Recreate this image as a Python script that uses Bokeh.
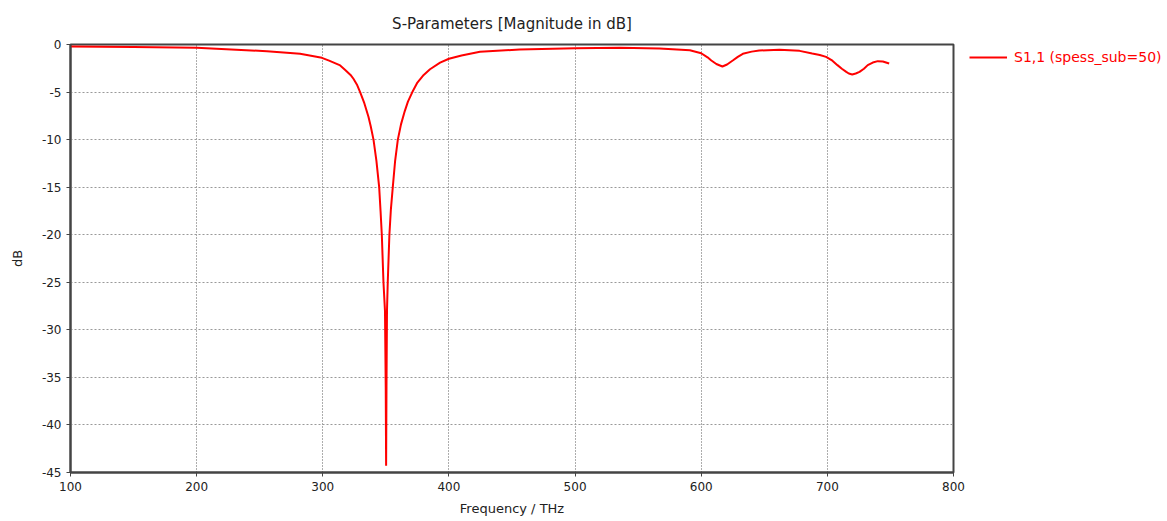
from bokeh.plotting import figure
from bokeh.models import Range1d, Legend, LegendItem, SingleIntervalTicker, CustomJSTickFormatter
from bokeh.embed import file_html
from bokeh.resources import INLINE

freq_thz = [100, 150, 200, 255.7, 282, 299.3, 305, 313.8, 318, 322, 324.3, 327, 329.6, 333,
            336.2, 338, 340.2, 342.5, 344.7, 345.8, 346.8, 348.1, 349.3, 349.9, 350.2,
            350.5, 350.9, 351.5, 352.8, 354, 355.5, 357.3, 359.5, 362, 365, 367.5, 371,
            375, 380, 385, 393, 400, 410, 424.6, 456, 500, 535.5, 567, 591, 600, 605, 608,
            612, 616.8, 620.5, 625, 629, 633, 640, 646, 662, 678, 688, 694, 699, 704, 708,
            711.5, 715, 717, 719.7, 722.5, 725.5, 729, 732, 736, 740, 744, 749]
s11_db = [-0.21, -0.25, -0.35, -0.7, -0.98, -1.4, -1.7, -2.2, -2.7, -3.2, -3.6, -4.2, -5.0,
          -6.2, -7.6, -8.6, -10.0, -12.2, -15.0, -17.5, -20.0, -25.0, -28.0, -36.0, -44.3,
          -36.0, -28.0, -25.0, -20.0, -17.3, -15.0, -12.3, -10.0, -8.4, -7.0, -6.0, -5.0,
          -4.0, -3.2, -2.6, -1.9, -1.5, -1.15, -0.77, -0.53, -0.39, -0.35, -0.42, -0.6,
          -0.92, -1.35, -1.68, -2.05, -2.31, -2.1, -1.68, -1.3, -0.98, -0.75, -0.63, -0.56,
          -0.67, -0.95, -1.1, -1.3, -1.7, -2.17, -2.55, -2.88, -3.05, -3.15, -3.05, -2.88,
          -2.55, -2.17, -1.9, -1.75, -1.78, -2.0]

series_label = "S1,1 (spess_sub=50)"
title_text = "S-Parameters [Magnitude in dB]"
x_label = "Frequency / THz"
y_label = "dB"

FONT = "DejaVu Sans"

p = figure(frame_width=883, frame_height=428, output_backend="svg", toolbar_location=None,
           x_range=Range1d(100, 800), y_range=Range1d(-45, 0),
           min_border_left=70, min_border_right=205, min_border_top=44, min_border_bottom=40)

p.title.text = title_text
p.title.align = "center"
p.title.text_font = FONT
p.title.text_font_size = "15px"
p.title.text_font_style = "normal"
p.title.text_color = "#222222"
p.title.standoff = 24

r = p.line(freq_thz, s11_db, line_color="#ff0000", line_width=2)

p.xaxis.ticker = SingleIntervalTicker(interval=100, num_minor_ticks=0)
p.yaxis.ticker = SingleIntervalTicker(interval=5, num_minor_ticks=0)
p.yaxis.formatter = CustomJSTickFormatter(code="return tick.toFixed(0);")

for ax in (p.xaxis, p.yaxis):
    ax.axis_line_color = "#444444"
    ax.axis_line_width = 2
    ax.major_tick_line_color = "#444444"
    ax.major_tick_line_width = 1
    ax.major_tick_out = 4
    ax.major_tick_in = 0
    ax.minor_tick_line_color = None
    ax.major_label_text_font = FONT
    ax.major_label_text_font_size = "12px"
    ax.major_label_text_color = "#222222"
    ax.axis_label_text_font = FONT
    ax.axis_label_text_font_size = "13px"
    ax.axis_label_text_font_style = "normal"
    ax.axis_label_text_color = "#222222"

p.xaxis.axis_label = x_label
p.yaxis.axis_label = y_label
p.xaxis.axis_label_standoff = 7
p.yaxis.axis_label_standoff = 14

p.outline_line_color = "#444444"
p.outline_line_width = 2

p.xgrid.grid_line_color = "#333333"
p.xgrid.grid_line_dash = "1 2"
p.xgrid.grid_line_alpha = 0.8
p.ygrid.grid_line_color = "#999999"
p.ygrid.grid_line_dash = "2 2"

legend = Legend(items=[LegendItem(label=series_label, renderers=[r])],
                location=(16, 405), border_line_color=None, background_fill_alpha=0,
                label_text_color="#ff0000", label_text_font=FONT,
                label_text_font_size="14px", glyph_width=38, margin=0, padding=0,
                label_standoff=7)
p.add_layout(legend, "right")

open("out.html", "w").write(file_html(p, INLINE))
